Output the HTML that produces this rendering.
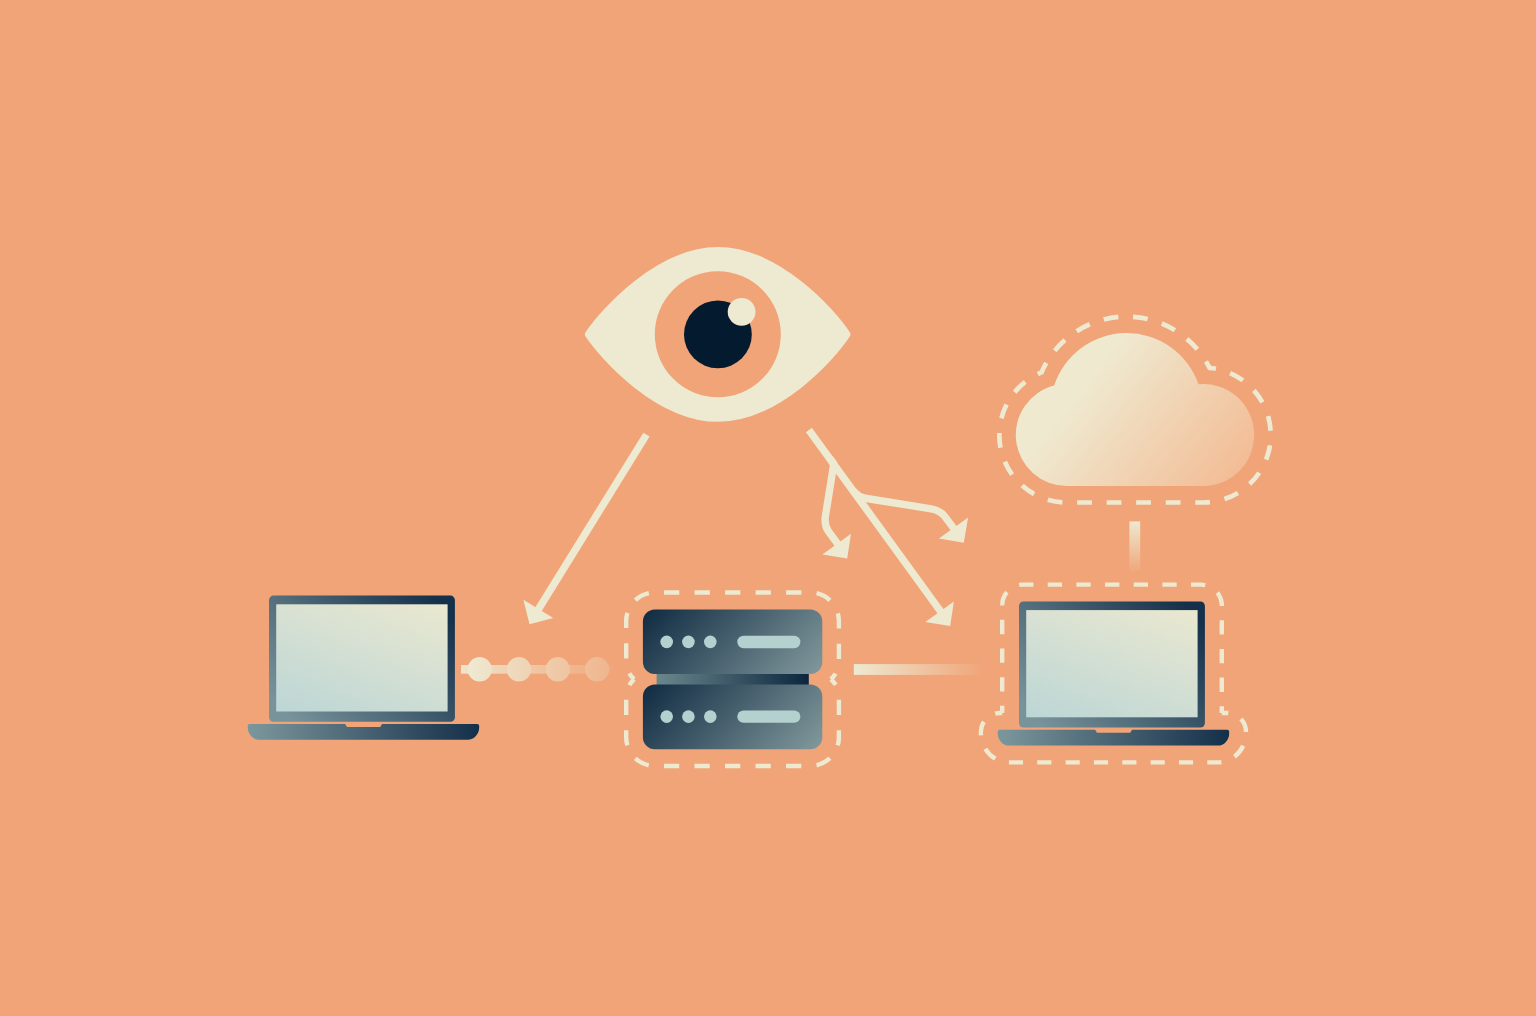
<!DOCTYPE html>
<html>
<head>
<meta charset="utf-8">
<title>Diagram</title>
<style>
html,body{margin:0;padding:0;background:#F0A477;font-family:"Liberation Sans",sans-serif;}
body{width:1536px;height:1016px;overflow:hidden;}
svg{display:block;}
</style>
</head>
<body>
<svg width="1536" height="1016" viewBox="0 0 1536 1016">
<defs>
  <linearGradient id="gFrame" x1="0" y1="0.8" x2="1" y2="0.2">
    <stop offset="0" stop-color="#78939A"/>
    <stop offset="1" stop-color="#15304A"/>
  </linearGradient>
  <linearGradient id="gScreen" x1="0" y1="1" x2="0.716" y2="-0.173">
    <stop offset="0" stop-color="#BCD6D6"/>
    <stop offset="1" stop-color="#EAE8D0"/>
  </linearGradient>
  <linearGradient id="gBase" x1="0" y1="0" x2="1" y2="0">
    <stop offset="0" stop-color="#7C979C"/>
    <stop offset="1" stop-color="#142F49"/>
  </linearGradient>
  <linearGradient id="gServer" x1="0" y1="0" x2="1.2" y2="0.4">
    <stop offset="0" stop-color="#0F2A42"/>
    <stop offset="1" stop-color="#82999C"/>
  </linearGradient>
  <linearGradient id="gConn" x1="0" y1="0" x2="1" y2="0">
    <stop offset="0" stop-color="#6A878D"/>
    <stop offset="1" stop-color="#0C263E"/>
  </linearGradient>
  <linearGradient id="gCloud" x1="0.366" y1="0.185" x2="1.188" y2="0.6">
    <stop offset="0" stop-color="#EFE9D0"/>
    <stop offset="1" stop-color="#F3B88F"/>
  </linearGradient>
  <linearGradient id="gDotLine" gradientUnits="userSpaceOnUse" x1="452" y1="0" x2="617" y2="0">
    <stop offset="0" stop-color="#EEE9D1"/>
    <stop offset="1" stop-color="#F0A477"/>
  </linearGradient>
  <linearGradient id="gDots" gradientUnits="userSpaceOnUse" x1="470" y1="0" x2="656" y2="0">
    <stop offset="0" stop-color="#EEE9D1"/>
    <stop offset="1" stop-color="#F0A477"/>
  </linearGradient>
  <linearGradient id="gHLine" gradientUnits="userSpaceOnUse" x1="854" y1="0" x2="985" y2="0">
    <stop offset="0" stop-color="#EEE9D1"/>
    <stop offset="1" stop-color="#F0A477"/>
  </linearGradient>
  <linearGradient id="gVLine" gradientUnits="userSpaceOnUse" x1="0" y1="521" x2="0" y2="574">
    <stop offset="0" stop-color="#EEE9D1"/>
    <stop offset="1" stop-color="#F0A477"/>
  </linearGradient>

  <g id="laptop">
    <rect x="269" y="595.6" width="185.900" height="126.1" rx="4.5" ry="4.5" fill="url(#gFrame)"/>
    <rect x="276.2" y="604.3" width="171.4" height="107.2" fill="url(#gScreen)"/>
    <path d="M249.7,724 H345.1 L347,727 H380.2 L382.1,724 H477.2 Q479.2,724 479.2,726 V727.1 A11.4,12.7 0 0 1 467.8,739.8 H259.1 A11.4,12.7 0 0 1 247.7,727.1 V726 Q247.7,724 249.7,724 Z" fill="url(#gBase)"/>
  </g>
</defs>

<rect x="0" y="0" width="1536" height="1016" fill="#F0A477"/>

<!-- EYE -->
<g id="eye">
  <path d="M588.9,334.4 C603.4,312.7 658.4,251 717.9,251 C777.4,251 832.4,312.7 846.4,334.4 C832.4,356.1 777.4,417.8 717.9,417.8 C658.4,417.8 603.4,356.1 588.9,334.4 Z" fill="#EEE9D1" stroke="#EEE9D1" stroke-width="8" stroke-linejoin="round"/>
  <circle cx="717.8" cy="334.3" r="63" fill="#F0A477"/>
  <circle cx="717.9" cy="334.4" r="33.9" fill="#041A2F"/>
  <circle cx="741.6" cy="311.8" r="13.9" fill="#EEE9D1"/>
</g>

<!-- ARROWS -->
<g id="arrows" fill="none" stroke="#EEE9D1" stroke-width="7.4" stroke-linejoin="round">
  <line x1="646.5" y1="434.6" x2="538" y2="610"/>
  <line x1="808.9" y1="430" x2="941.5" y2="612.6"/>
  <path d="M829.7,458.1 L833.8,463.8 L825.5,515.5 Q823.9,525.4 828.7,531.8 L838.7,545.2"/>
  <path d="M852.6,489.8 Q857.9,497.1 866.8,498.5 L931.2,508.8 Q940.1,510.2 944.9,516.6 L954.5,529.4"/>
</g>
<g id="arrowheads" fill="#EEE9D1">
  <polygon points="523.4,599.7 553.3,618.1 529.5,624.2"/>
  <polygon points="953.9,601.4 925.3,621.9 950.2,626.1"/>
  <polygon points="851,533.8 822.4,554.5 847.2,558.6"/>
  <polygon points="968.1,517.6 938.9,538.6 963.8,542.7"/>
</g>

<!-- LEFT LAPTOP -->
<use href="#laptop"/>

<!-- DOTTED CONNECTOR -->
<g id="dots" fill="url(#gDots)">
  <rect x="461" y="665" width="157" height="8.700" fill="url(#gDotLine)"/>
  <circle cx="479.7" cy="669.3" r="12.2"/>
  <circle cx="519" cy="669.3" r="12.2"/>
  <circle cx="557.8" cy="669.3" r="12.2"/>
  <circle cx="597.1" cy="669.3" r="12.2"/>
</g>

<!-- SERVER -->
<g id="server">
  <rect x="656.6" y="672" width="152.2" height="14" fill="url(#gConn)"/>
  <rect x="642.9" y="609.4" width="179.4" height="64.6" rx="12" ry="12" fill="url(#gServer)"/>
  <rect x="642.9" y="684.4" width="179.4" height="64.9" rx="12" ry="12" fill="url(#gServer)"/>
  <g fill="#B5D1CF">
    <circle cx="666.7" cy="641.9" r="6.3"/>
    <circle cx="688.4" cy="641.9" r="6.3"/>
    <circle cx="710.3" cy="641.9" r="6.3"/>
    <rect x="737.3" y="635.8" width="63.1" height="12.4" rx="6.2" ry="6.2"/>
    <circle cx="666.7" cy="716.6" r="6.3"/>
    <circle cx="688.4" cy="716.6" r="6.3"/>
    <circle cx="710.3" cy="716.6" r="6.3"/>
    <rect x="737.3" y="710.4" width="63.1" height="12.4" rx="6.2" ry="6.2"/>
  </g>
  <g fill="none" stroke="#EEE9D1" stroke-width="4.4" stroke-dasharray="15.26 15.26" stroke-dashoffset="7.63">
    <path d="M634.2,679.2 A22.5,22.5 0 0 1 626.2,662 V621.2 A28.7,28.7 0 0 1 654.9,592.5 H810.2 A28.7,28.7 0 0 1 838.9,621.2 V662 A22.5,22.5 0 0 1 830.9,679.2"/>
    <path d="M634.2,679.2 A22.5,22.5 0 0 0 626.2,696.4 V737.3 A28.7,28.7 0 0 0 654.9,766 H810.2 A28.7,28.7 0 0 0 838.9,737.3 V696.4 A22.5,22.5 0 0 0 830.9,679.2"/>
  </g>
</g>

<!-- HORIZONTAL LINE -->
<rect x="853.8" y="664.1" width="128" height="10.8" fill="url(#gHLine)"/>

<!-- RIGHT LAPTOP -->
<use href="#laptop" transform="translate(750,5.8)"/>
<path d="M1002.2,713 V605.4 A20.8,20.8 0 0 1 1023,584.6 H1201 A20.8,20.8 0 0 1 1221.8,605.4 V713"
      fill="none" stroke="#EEE9D1" stroke-width="4.4" stroke-dasharray="14.33 14.33" stroke-dashoffset="7.165"/>
<path d="M1002.2,713 H999.7 A18.8,18.8 0 0 0 980.9,731.8 V732.9 A28.2,29.5 0 0 0 1009.1,762.4 H1217.8 A28.2,29.5 0 0 0 1246,732.9 V731.8 A18.8,18.8 0 0 0 1227.2,713 H1221.8"
      fill="none" stroke="#EEE9D1" stroke-width="4.4" stroke-dasharray="14.174 14.174" stroke-dashoffset="7.087"/>

<!-- CLOUD -->
<path d="M1066.8,486 H1203.2 A51,51 0 1 0 1198.55,384.21 A76.2,76.2 0 0 0 1054.18,385.58 A51,51 0 0 0 1066.8,486 Z" fill="url(#gCloud)"/>
<path d="M1209.49,367.79 A92.7,92.7 0 0 0 1041.56,372.4 A67.5,67.5 0 0 0 1066.8,502.5 H1203.2 A67.5,67.5 0 0 0 1209.49,367.79 Z"
      fill="none" stroke="#EEE9D1" stroke-width="4.7" stroke-dasharray="14.774 14.774" stroke-dashoffset="7.387"/>

<!-- VERTICAL LINE -->
<rect x="1129.4" y="521.4" width="10.8" height="50" fill="url(#gVLine)"/>

</svg>
</body>
</html>
